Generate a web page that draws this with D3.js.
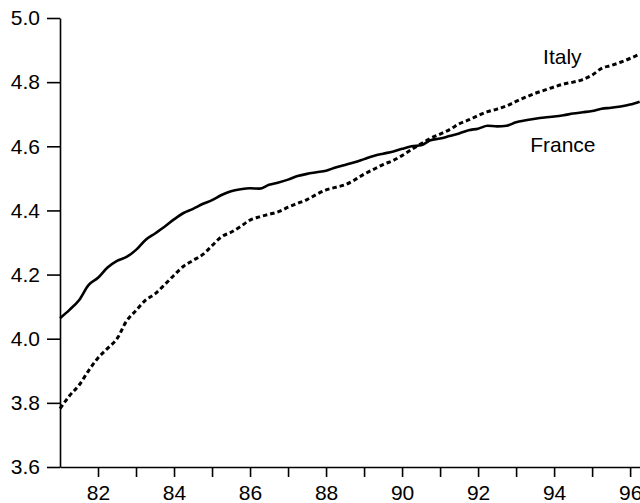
<!DOCTYPE html>
<html>
<head>
<meta charset="utf-8">
<script src="https://cdn.jsdelivr.net/npm/d3@7/dist/d3.min.js"></script>
<style>
  html, body { margin: 0; padding: 0; background: #fff; }
  svg { display: block; }
  text { font-family: "Liberation Sans", Arial, Helvetica, sans-serif; }
</style>
</head>
<body>
<svg id="chart" width="640" height="503"></svg>
<script>
// Quarterly time points (years, 1981.00 – 1996.25)
const years = d3.range(0, 62).map(i => 81 + i * 0.25);

const france = [
  4.064, 4.090, 4.120, 4.167, 4.190, 4.222, 4.243, 4.255,
  4.277, 4.308, 4.328, 4.349, 4.372, 4.392, 4.405, 4.420,
  4.432, 4.448, 4.460, 4.466, 4.469, 4.468, 4.480, 4.487,
  4.496, 4.507, 4.514, 4.519, 4.524, 4.534, 4.542, 4.550,
  4.560, 4.570, 4.577, 4.583, 4.592, 4.600, 4.603, 4.619,
  4.624, 4.632, 4.640, 4.650, 4.655, 4.664, 4.662, 4.664,
  4.675, 4.681, 4.686, 4.690, 4.693, 4.697, 4.702, 4.706,
  4.710, 4.717, 4.720, 4.724, 4.730, 4.739
];

const italy = [
  3.782, 3.822, 3.855, 3.900, 3.940, 3.970, 4.000, 4.055,
  4.088, 4.120, 4.140, 4.168, 4.198, 4.226, 4.244, 4.262,
  4.290, 4.318, 4.332, 4.350, 4.370, 4.380, 4.388, 4.396,
  4.410, 4.422, 4.434, 4.450, 4.464, 4.472, 4.480, 4.495,
  4.513, 4.528, 4.543, 4.555, 4.571, 4.590, 4.608, 4.625,
  4.638, 4.652, 4.670, 4.682, 4.696, 4.708, 4.716, 4.726,
  4.740, 4.753, 4.765, 4.775, 4.785, 4.794, 4.800, 4.808,
  4.822, 4.843, 4.852, 4.862, 4.874, 4.887
];

const xTicks = d3.range(82, 97);           // yearly ticks
const xTickLabels = ["82", "84", "86", "88", "90", "92", "94", "96"];
const yTicks = [3.6, 3.8, 4.0, 4.2, 4.4, 4.6, 4.8, 5.0];
const seriesLabels = ["Italy", "France"];

const svg = d3.select("#chart");

const x = d3.scaleLinear().domain([81, 96.26]).range([60, 640]);
const y = d3.scaleLinear().domain([3.6, 5.0]).range([467, 18]);

// X axis
const xAxis = d3.axisBottom(x)
  .tickValues(xTicks)
  .tickSizeInner(10)
  .tickSizeOuter(0)
  .tickPadding(8)
  .tickFormat(d => xTickLabels.includes(String(d)) ? String(d) : "");

const gx = svg.append("g")
  .attr("transform", `translate(0,${y(3.6)})`)
  .call(xAxis);

// Y axis
const yAxis = d3.axisLeft(y)
  .tickValues(yTicks)
  .tickSizeInner(13)
  .tickSizeOuter(0)
  .tickPadding(7)
  .tickFormat(d3.format(".1f"));

const gy = svg.append("g")
  .attr("transform", `translate(${x(81)},0)`)
  .call(yAxis);

[gx, gy].forEach(g => {
  g.selectAll("path.domain").attr("stroke", "#000").attr("stroke-width", 1.6);
  g.selectAll(".tick line").attr("stroke", "#000").attr("stroke-width", 1.6);
  g.selectAll(".tick text")
    .attr("fill", "#000")
    .style("font-size", "21px")
    .style("font-family", "'Liberation Sans', Arial, Helvetica, sans-serif");
});

const line = d3.line()
  .x((d, i) => x(years[i]))
  .y(d => y(d))
  .curve(d3.curveMonotoneX);

svg.append("path")
  .datum(france)
  .attr("fill", "none")
  .attr("stroke", "#000")
  .attr("stroke-width", 2.6)
  .attr("stroke-linejoin", "round")
  .attr("d", line);

svg.append("path")
  .datum(italy)
  .attr("fill", "none")
  .attr("stroke", "#000")
  .attr("stroke-width", 3)
  .attr("stroke-dasharray", "4.5,3")
  .attr("d", line);

// Series labels
svg.append("text")
  .attr("x", x(93.71))
  .attr("y", 64)
  .style("font-size", "21px")
  .attr("fill", "#000")
  .text(seriesLabels[0]);

svg.append("text")
  .attr("x", x(93.37))
  .attr("y", 152)
  .style("font-size", "21px")
  .attr("fill", "#000")
  .text(seriesLabels[1]);
</script>
</body>
</html>
